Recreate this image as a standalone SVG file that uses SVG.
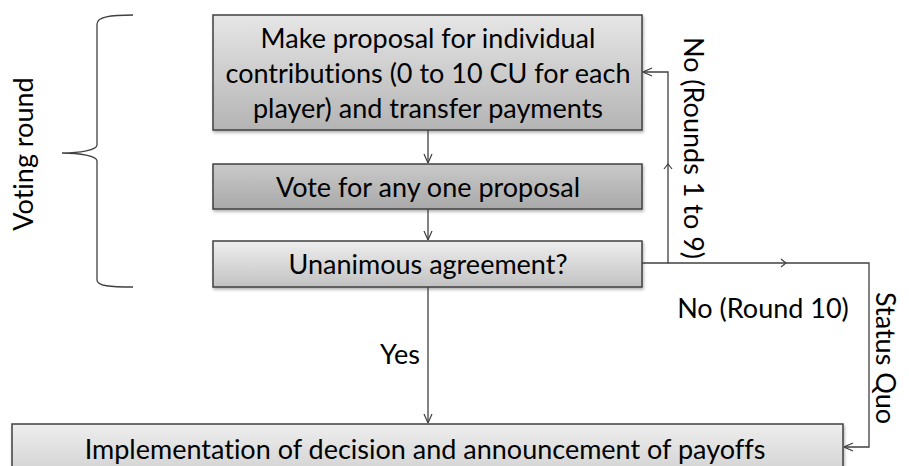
<svg xmlns="http://www.w3.org/2000/svg" width="909" height="466" viewBox="0 0 909 466">
<defs>
<linearGradient id="g1" x1="0" y1="0" x2="0" y2="1"><stop offset="0" stop-color="#e6e6e6"/><stop offset="1" stop-color="#b4b4b4"/></linearGradient>
<linearGradient id="g2" x1="0" y1="0" x2="0" y2="1"><stop offset="0" stop-color="#c9c9c9"/><stop offset="1" stop-color="#a9a9a9"/></linearGradient>
<linearGradient id="g3" x1="0" y1="0" x2="0" y2="1"><stop offset="0" stop-color="#eeeeee"/><stop offset="1" stop-color="#c2c2c2"/></linearGradient>
<linearGradient id="g4" x1="0" y1="0" x2="0" y2="1"><stop offset="0" stop-color="#eeeeee"/><stop offset="1" stop-color="#d2d2d2"/></linearGradient>
<filter id="sh" x="-5%" y="-20%" width="110%" height="140%"><feDropShadow dx="1" dy="2" stdDeviation="1.5" flood-color="#000" flood-opacity="0.3"/></filter>
<marker id="ah" viewBox="0 0 10 10" refX="10" refY="5" markerWidth="10" markerHeight="10" markerUnits="userSpaceOnUse" orient="auto"><path d="M1,1 L10,5 L1,9" fill="none" stroke="#404040" stroke-width="1.2"/></marker>
<marker id="am" viewBox="0 0 10 10" refX="5" refY="5" markerWidth="10" markerHeight="10" markerUnits="userSpaceOnUse" orient="auto"><path d="M1,1 L6,5 L1,9" fill="none" stroke="#404040" stroke-width="1.2"/></marker>
</defs>
<style>
.box{stroke:#404040;stroke-width:1.5;filter:url(#sh)}
.t{font-family:Lato,"Liberation Sans",sans-serif;font-size:27px;fill:#000;text-anchor:middle;font-variant-ligatures:none}
.c{fill:none;stroke:#404040;stroke-width:1.3}
</style>
<g id="brace">
<path class="c" d="M133,15 C110,15 97,17 97,24 L97,145 C97,150 80,153 62,153 C80,153 97,156 97,161 L97,280 C97,286 110,287 133,287" stroke="#000"/>
</g>
<text class="t" transform="translate(33,154) rotate(-90)">Voting round</text>
<g id="n1">
<rect class="box" x="213" y="15" width="429" height="115" fill="url(#g1)"/>
<text class="t" x="428" y="48">Make proposal for individual</text>
<text class="t" x="428" y="83">contributions (0 to 10 CU for each</text>
<text class="t" x="428" y="118">player) and transfer payments</text>
</g>
<g id="n2">
<rect class="box" x="213" y="164" width="429" height="45" fill="url(#g2)"/>
<text class="t" x="428" y="197">Vote for any one proposal</text>
</g>
<g id="n3">
<rect class="box" x="213" y="241" width="429" height="46" fill="url(#g3)"/>
<text class="t" x="428" y="274">Unanimous agreement?</text>
</g>
<g id="n4">
<rect class="box" x="12" y="424" width="831" height="50" fill="url(#g4)"/>
<text class="t" x="425" y="459">Implementation of decision and announcement of payoffs</text>
</g>
<g id="connectors">
<line class="c" x1="428" y1="130" x2="428" y2="163" marker-end="url(#ah)"/>
<line class="c" x1="428" y1="209" x2="428" y2="240" marker-end="url(#ah)"/>
<line class="c" x1="428" y1="287" x2="428" y2="423" marker-end="url(#ah)"/>
<path class="c" d="M642,263 L668,263 L668,165" marker-end="url(#am)"/>
<path class="c" d="M668,165 L668,72 L643,72" marker-end="url(#ah)"/>
<path class="c" d="M668,263 L785,263" marker-end="url(#am)"/>
<path class="c" d="M785,263 L869,263 L869,447 L844,447" marker-end="url(#ah)"/>
</g>
<text class="t" transform="translate(684,148) rotate(90)">No (Rounds 1 to 9)</text>
<text class="t" x="763" y="318">No (Round 10)</text>
<text class="t" x="400" y="364">Yes</text>
<text class="t" transform="translate(876,358) rotate(90)">Status Quo</text>
</svg>
